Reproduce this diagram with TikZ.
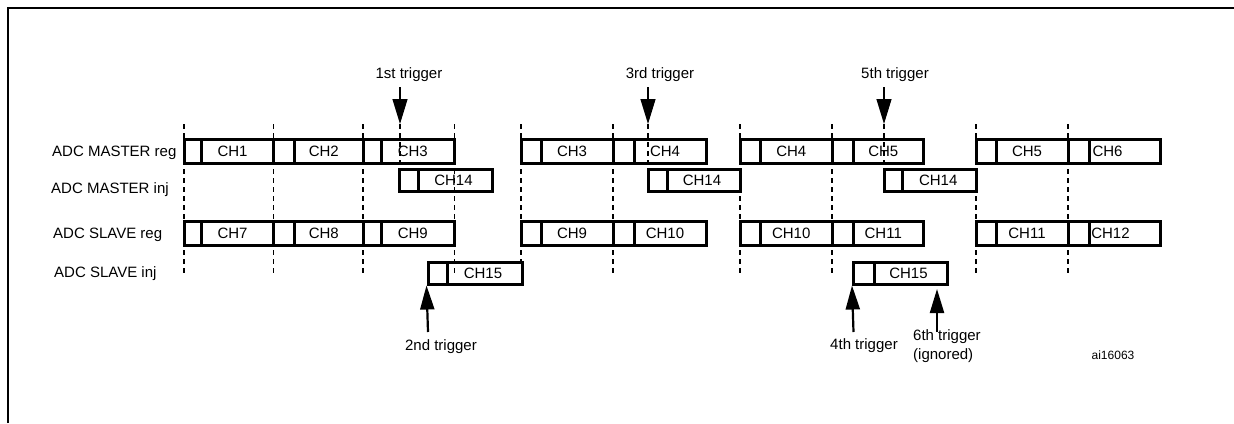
\documentclass[tikz,border=0pt]{standalone}
\usepackage{fontspec}
\setmainfont{Liberation Sans}
\usetikzlibrary{arrows.meta, positioning}

\newcommand{\cellh}{24pt}
% one conversion: small slot + channel cell
\newcommand{\convbox}[7][]{%
  \node[slotcell, minimum width={(#4-#3)*1pt}] (#2s) at ({(#3+#4)/2},#6) {};
  \node[slotcell, minimum width={(#5-#4)*1pt}] (#2) at ({(#4+#5)/2},#6) {};
  \node[chtext, #1] (#2t) at (#2.center) {#7};
}

\begin{document}
\begin{tikzpicture}[x=1pt, y=-1pt,
    slotcell/.style={draw, line width=3pt, minimum height=\cellh, inner sep=0pt},
    chtext/.style={font=\fontsize{15}{18}\selectfont, inner sep=0pt, xshift=-5pt},
    rowlabel/.style={font=\fontsize{15}{18}\selectfont, anchor=west, inner sep=0pt},
    trigtext/.style={font=\fontsize{15}{19}\selectfont, inner sep=0pt},
    guide/.style={line width=1.1pt, dash pattern=on 5pt off 4pt},
    trigdown/.style={line width=1.2pt, -{Triangle[length=25pt, width=15pt]}},
    trigup/.style={line width=2.2pt, -{Triangle[length=24pt, width=14pt]}}]
  \useasboundingbox (0,0) rectangle (1234,423);

  % frame
  \draw[line width=2pt] (8,423) -- (8,8) -- (1234,8);

  % row labels
  \node[rowlabel] (mreg) at (52,153) {ADC MASTER reg};
  \node[rowlabel] (minj) at (51,190) {ADC MASTER inj};
  \node[rowlabel] (sreg) at (53,235) {ADC SLAVE reg};
  \node[rowlabel] (sinj) at (54,274) {ADC SLAVE inj};

  % ADC MASTER reg
  \convbox{mra}{184}{201.6}{273.5}{151.5}{CH1}
  \convbox{mrb}{273.5}{294.5}{363}{151.5}{CH2}
  \convbox{mrc}{363}{381}{454.5}{151.5}{CH3}
  \convbox{mrd}{521}{541}{613}{151.5}{CH3}
  \convbox{mre}{613}{634}{706}{151.5}{CH4}
  \convbox{mrf}{740}{760.5}{832}{151.5}{CH4}
  \convbox{mrg}{832}{853}{923.5}{151.5}{CH5}
  \convbox{mrh}{976}{996}{1068}{151.5}{CH5}
  \convbox[xshift=-12pt]{mri}{1068}{1089}{1160}{151.5}{CH6}

  % ADC SLAVE reg
  \convbox{sra}{184}{201.6}{273.5}{233}{CH7}
  \convbox{srb}{273.5}{294.5}{363}{233}{CH8}
  \convbox{src}{363}{381}{454.5}{233}{CH9}
  \convbox{srd}{521}{541}{613}{233}{CH9}
  \convbox{sre}{613}{634}{706}{233}{CH10}
  \convbox{srf}{740}{760.5}{832}{233}{CH10}
  \convbox{srg}{832}{853}{923.5}{233}{CH11}
  \convbox{srh}{976}{996}{1068}{233}{CH11}
  \convbox[xshift=-9pt]{sri}{1068}{1089}{1160}{233}{CH12}

  % injected conversions
  \renewcommand{\cellh}{22pt}
  \convbox[xshift=3.5pt]{mia}{399}{418}{492}{180.5}{CH14}
  \convbox[xshift=3.5pt]{mib}{648}{667}{740}{180.5}{CH14}
  \convbox[xshift=4pt]{mic}{884}{902.5}{976}{180.5}{CH14}
  \convbox[xshift=3.5pt]{sia}{428}{447}{522}{273}{CH15}
  \convbox[xshift=3pt]{sib}{853.5}{874}{947}{273}{CH15}

  % dashed guides
  \foreach \gx in {184,273.5,363,454.5,613,740,832,976,1068}
    \draw[guide] (\gx,124) -- (\gx,276);
  \draw[guide] (521,124) -- (521,261);
  \foreach \gx in {400,648,884}
    \draw[guide] (\gx,124) -- (\gx,168);

  % triggers on the master
  \node[trigtext] (trga) at (409,75) {1st trigger};
  \node[trigtext] (trgc) at (660,75) {3rd trigger};
  \node[trigtext] (trge) at (895,75) {5th trigger};
  \coordinate (trgatail) at (400,87);
  \coordinate (trgatip) at (400,124);
  \coordinate (trgctail) at (648,87);
  \coordinate (trgctip) at (648,124);
  \coordinate (trgetail) at (884,87);
  \coordinate (trgetip) at (884,124);
  \draw[trigdown] (trgatail) -- (trgatip);
  \draw[trigdown] (trgctail) -- (trgctip);
  \draw[trigdown] (trgetail) -- (trgetip);

  % triggers on the slave
  \node[trigtext] (trgb) at (441,347) {2nd trigger};
  \node[trigtext] (trgd) at (864,346) {4th trigger};
  \node[trigtext, anchor=west, align=left] (trgf) at (913,346.5) {6th trigger\\(ignored)};
  \coordinate (trgbtail) at (428,332);
  \coordinate (trgdtail) at (853.5,332);
  \coordinate (trgftail) at (937,332);
  \coordinate (trgftip) at (937,289);
  \draw[trigup] (trgbtail) -- (sias.south west);
  \draw[trigup] (trgdtail) -- (sibs.south west);
  \draw[trigup] (trgftail) -- (trgftip);

  \node[font=\fontsize{12}{14}\selectfont, inner sep=0pt] (figid) at (1113,355) {ai16063};
\end{tikzpicture}
\end{document}
